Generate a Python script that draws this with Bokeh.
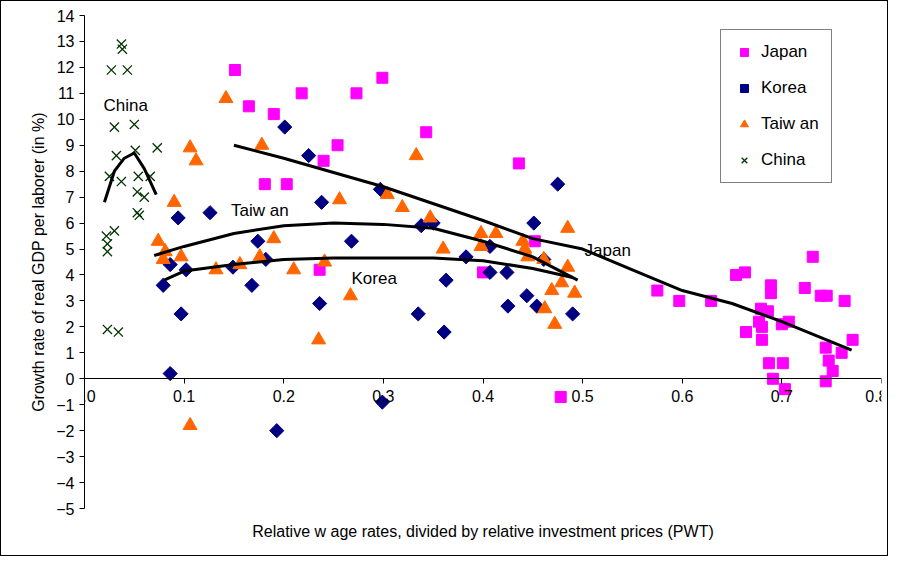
from bokeh.plotting import figure
from bokeh.models import Legend, LegendItem, FixedTicker, LinearAxis
from bokeh.core.properties import value
from bokeh.embed import file_html
from bokeh.resources import INLINE

japan_x = [0.151,0.165,0.218,0.190,0.254,0.240,0.181,0.203,0.273,0.299,0.343,0.436,0.236,0.400,0.452,0.478,
           0.575,0.597,0.629,0.654,0.663,0.731,0.689,0.689,0.723,0.739,0.745,0.763,0.679,0.686,0.677,0.680,
           0.700,0.707,0.664,0.680,0.771,0.744,0.760,0.747,0.687,0.701,0.751,0.691,0.744,0.703]
japan_y = [11.9,10.5,11.0,10.2,9.0,8.4,7.5,7.5,11.0,11.6,9.5,8.3,4.2,4.1,5.3,-0.7,
           3.4,3.0,3.0,4.0,4.1,4.7,3.6,3.3,3.5,3.2,3.2,3.0,2.7,2.6,2.2,2.0,
           2.1,2.2,1.8,1.5,1.5,1.2,1.0,0.7,0.6,0.6,0.3,0.0,-0.1,-0.4]
korea_x = [0.201,0.225,0.238,0.126,0.094,0.297,0.174,0.268,0.182,0.086,0.102,0.149,0.079,0.168,0.363,0.383,
           0.236,0.097,0.335,0.361,0.086,0.299,0.193,0.338,0.350,0.475,0.451,0.407,0.461,0.407,0.424,0.444,
           0.454,0.425,0.490]
korea_y = [9.7,8.6,6.8,6.4,6.2,7.3,5.3,5.3,4.6,4.4,4.2,4.3,3.6,3.6,3.8,4.7,
           2.9,2.5,2.5,1.8,0.2,-0.9,-2.0,5.9,6.0,7.5,6.0,5.1,4.6,4.1,4.1,3.2,
           2.8,2.8,2.5]
taiwan_x = [0.142,0.106,0.112,0.178,0.090,0.074,0.190,0.081,0.079,0.097,0.132,0.156,0.176,0.241,0.210,0.256,
            0.304,0.319,0.333,0.347,0.267,0.235,0.106,0.360,0.398,0.413,0.398,0.440,0.442,0.445,0.461,0.485,
            0.485,0.479,0.469,0.492,0.462,0.472]
taiwan_y = [10.8,8.9,8.4,9.0,6.8,5.3,5.4,4.9,4.6,4.7,4.2,4.4,4.7,4.5,4.2,6.9,
            7.1,6.6,8.6,6.2,3.2,1.5,-1.8,5.0,5.6,5.6,5.1,5.3,5.0,4.7,4.6,5.8,
            4.3,3.7,3.4,3.3,2.7,2.1]
china_x = [0.037,0.038,0.027,0.043,0.030,0.050,0.032,0.051,0.073,0.025,0.037,0.054,0.066,0.053,0.060,0.053,
           0.055,0.030,0.022,0.023,0.023,0.023,0.034]
china_y = [12.9,12.7,11.9,11.9,9.7,9.8,8.6,8.8,8.9,7.8,7.6,7.8,7.8,7.2,7.0,6.4,
           6.3,5.7,5.5,5.2,4.9,1.9,1.8]

jfit_x = [0.15,0.2,0.3,0.4,0.45,0.5,0.55,0.6,0.65,0.7,0.77]
jfit_y = [9.0,8.5,7.4,6.1,5.4,5.0,4.2,3.4,2.9,2.2,1.1]
tfit_x = [0.07,0.1,0.15,0.2,0.25,0.3,0.35,0.4,0.45,0.495]
tfit_y = [4.75,5.1,5.6,5.9,6.0,5.95,5.8,5.3,4.7,3.8]
kfit_x = [0.08,0.1,0.15,0.2,0.25,0.3,0.35,0.4,0.45,0.49]
kfit_y = [3.8,4.15,4.4,4.6,4.65,4.65,4.65,4.55,4.25,3.9]
cfit_x = [0.02,0.03,0.04,0.05,0.06,0.072]
cfit_y = [6.8,8.0,8.5,8.7,8.1,7.1]

xticks = [0.0,0.1,0.2,0.3,0.4,0.5,0.6,0.7,0.8]
xtick_labels = ["0.0","0.1","0.2","0.3","0.4","0.5","0.6","0.7","0.8"]
yticks = list(range(-5,15))

FONT = "Liberation Sans"
p = figure(width=888, height=556, x_range=(0,0.8), y_range=(-5,14),
           output_backend="svg", toolbar_location=None, x_axis_location=None,
           min_border_left=83, min_border_right=8, min_border_top=14, min_border_bottom=49)
p.styles = {"border": "1px solid black"}
p.grid.visible = False
p.outline_line_color = None
p.background_fill_color = "white"

p.yaxis.ticker = FixedTicker(ticks=yticks)
p.yaxis.major_label_text_font = FONT
p.yaxis.major_label_text_font_size = "16px"
p.yaxis.major_label_text_color = "black"
p.yaxis.axis_line_color = "black"
p.yaxis.major_tick_line_color = "black"
p.yaxis.minor_tick_line_color = None
p.yaxis.major_tick_in = 0
p.yaxis.major_tick_out = 5
p.yaxis.axis_label = "Growth rate of real GDP per laborer (in %)"
p.yaxis.axis_label_text_font = FONT
p.yaxis.axis_label_text_color = "black"
p.yaxis.axis_label_text_font_style = "normal"
p.yaxis.axis_label_text_font_size = "16px"
p.yaxis.axis_label_standoff = 6

# x axis crossing at y = 0
ax0 = LinearAxis(fixed_location=0, ticker=FixedTicker(ticks=xticks),
                 major_label_overrides={t: l for t, l in zip(xticks, xtick_labels)},
                 major_label_text_font=FONT, major_label_text_font_size="16px",
                 major_label_text_color="black", axis_line_color="black",
                 major_tick_line_color="black", minor_tick_line_color=None,
                 major_tick_in=0, major_tick_out=5, major_label_standoff=6)
p.add_layout(ax0, "below")

# title-only axis at the bottom
ax1 = LinearAxis(ticker=FixedTicker(ticks=[]), axis_line_color=None,
                 major_label_text_font_size="0px", minor_tick_line_color=None,
                 axis_label="Relative w age rates, divided by relative investment prices (PWT)",
                 axis_label_text_font=FONT, axis_label_text_color="black",
                 axis_label_text_font_style="normal", axis_label_text_font_size="16px",
                 axis_label_standoff=14)
p.add_layout(ax1, "below")

rj = p.scatter(japan_x, japan_y, marker="square", size=11, color="#FF00FF")
rk = p.scatter(korea_x, korea_y, marker="square", angle=0.785, size=10, color="#000080")
rt = p.scatter(taiwan_x, taiwan_y, marker="triangle", size=14, color="#FF6600")
rc = p.scatter(china_x, china_y, marker="x", size=13, line_color="#003300", line_width=1.3)

for fx, fy in [(jfit_x, jfit_y), (tfit_x, tfit_y), (kfit_x, kfit_y), (cfit_x, cfit_y)]:
    p.line(fx, fy, line_color="black", line_width=3)

p.text(x=[0.019, 0.147, 0.268, 0.502], y=[10.55, 6.5, 3.85, 4.95],
       text=["China", "Taiw an", "Korea", "Japan"], text_baseline="middle",
       text_font=value(FONT), text_font_size="17px", text_color="black")

legend = Legend(items=[LegendItem(label="Japan", renderers=[rj]),
                       LegendItem(label="Korea", renderers=[rk]),
                       LegendItem(label="Taiw an", renderers=[rt]),
                       LegendItem(label="China", renderers=[rc])],
                location=(636, 325), label_text_font=FONT, label_text_font_size="17px",
                label_text_color="black",
                spacing=16, padding=12, border_line_color="black", border_line_width=1,
                glyph_width=22, label_standoff=6, margin=0)
p.add_layout(legend)

open("out.html", "w").write(file_html(p, INLINE))
